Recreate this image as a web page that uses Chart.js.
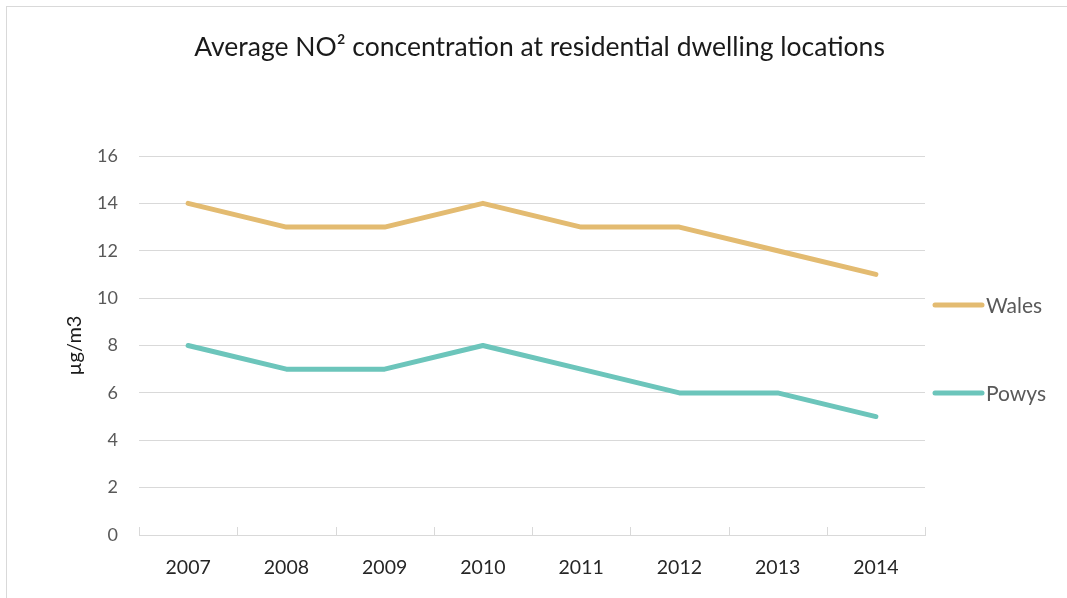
<!DOCTYPE html>
<html>
<head>
<meta charset="utf-8">
<script src="https://cdn.jsdelivr.net/npm/chart.js@4.4.1/dist/chart.umd.min.js"></script>
<style>
  html, body { margin: 0; padding: 0; background: #ffffff; }
  #wrap { width: 1067px; height: 598px; position: relative; }
</style>
</head>
<body>
<div id="wrap"><canvas id="c" width="1067" height="598"></canvas></div>
<script>
const years = ['2007', '2008', '2009', '2010', '2011', '2012', '2013', '2014'];
const walesValues = [14, 13, 13, 14, 13, 13, 12, 11];
const powysValues = [8, 7, 7, 8, 7, 6, 6, 5];
const yTicks = [0, 2, 4, 6, 8, 10, 12, 14, 16];
const seriesNames = ['Wales', 'Powys'];
const seriesColors = ['#E3BB71', '#6CC5BB'];

const FONT = 'Lato, "Open Sans", "DejaVu Sans", sans-serif';

const decorPlugin = {
  id: 'decor',
  beforeDraw(chart) {
    const ctx = chart.ctx;
    ctx.save();
    ctx.strokeStyle = '#d9d9d9';
    ctx.lineWidth = 1;
    ctx.strokeRect(6.5, 6.5, 1070, 600);
    ctx.restore();
  },
  afterDraw(chart) {
    const ctx = chart.ctx;
    const xs = chart.scales.x;
    const area = chart.chartArea;
    ctx.save();
    ctx.strokeStyle = '#d9d9d9';
    ctx.lineWidth = 1;
    const n = years.length;
    for (let i = 0; i <= n; i++) {
      let x;
      if (i === 0) x = xs.left;
      else if (i === n) x = xs.right;
      else x = (xs.getPixelForValue(i - 1) + xs.getPixelForValue(i)) / 2;
      x = Math.round(x) + 0.5;
      ctx.beginPath();
      ctx.moveTo(x, area.bottom);
      ctx.lineTo(x, area.bottom - 8);
      ctx.stroke();
    }
    const legendY = [305, 393];
    chart.data.datasets.forEach((ds, i) => {
      const y = legendY[i];
      ctx.strokeStyle = ds.borderColor;
      ctx.lineWidth = 5;
      ctx.lineCap = 'round';
      ctx.beginPath();
      ctx.moveTo(935, y);
      ctx.lineTo(982, y);
      ctx.stroke();
      ctx.fillStyle = '#595959';
      ctx.font = '21px ' + FONT;
      ctx.textBaseline = 'middle';
      ctx.textAlign = 'left';
      ctx.fillText(ds.label, 986, y + 1);
    });
    ctx.restore();
  }
};

new Chart(document.getElementById('c'), {
  type: 'line',
  data: {
    labels: years,
    datasets: [
      { label: seriesNames[0], data: walesValues, borderColor: seriesColors[0], backgroundColor: seriesColors[0],
        borderWidth: 5, pointRadius: 0, tension: 0, borderCapStyle: 'round', borderJoinStyle: 'round' },
      { label: seriesNames[1], data: powysValues, borderColor: seriesColors[1], backgroundColor: seriesColors[1],
        borderWidth: 5, pointRadius: 0, tension: 0, borderCapStyle: 'round', borderJoinStyle: 'round' }
    ]
  },
  options: {
    responsive: false,
    animation: false,
    layout: { padding: { left: 12, right: 0, top: 0, bottom: 0 } },
    plugins: {
      legend: { display: false },
      tooltip: { enabled: false },
      title: {
        display: true,
        text: 'Average NO² concentration at residential dwelling locations',
        color: '#1a1a1a',
        font: { family: FONT, size: 26.5, weight: 'normal' },
        padding: { top: 32, bottom: 92.2 }
      }
    },
    scales: {
      x: {
        type: 'category',
        offset: true,
        grid: { display: false, drawTicks: false },
        border: { display: true, color: '#d9d9d9', width: 1 },
        ticks: { color: '#262626', font: { family: FONT, size: 19.5 }, padding: 21, maxRotation: 0 },
        afterFit(scale) { scale.height = 63; }
      },
      y: {
        min: 0, max: 16,
        afterBuildTicks(scale) { scale.ticks = yTicks.map(v => ({ value: v })); },
        grid: { color: '#d9d9d9', drawTicks: false, lineWidth: 1 },
        border: { display: false },
        ticks: { color: '#595959', font: { family: FONT, size: 18 }, padding: 21 },
        title: { display: true, text: 'µg/m3', color: '#1a1a1a', font: { family: FONT, size: 20 }, padding: { top: 51, bottom: 0 } },
        afterFit(scale) { scale.width = 127; }
      },
      yRight: {
        position: 'right',
        min: 0, max: 16,
        display: true,
        grid: { display: false, drawTicks: false },
        border: { display: false },
        ticks: { display: false },
        afterFit(scale) { scale.width = 142; }
      }
    }
  },
  plugins: [decorPlugin]
});
</script>
</body>
</html>
